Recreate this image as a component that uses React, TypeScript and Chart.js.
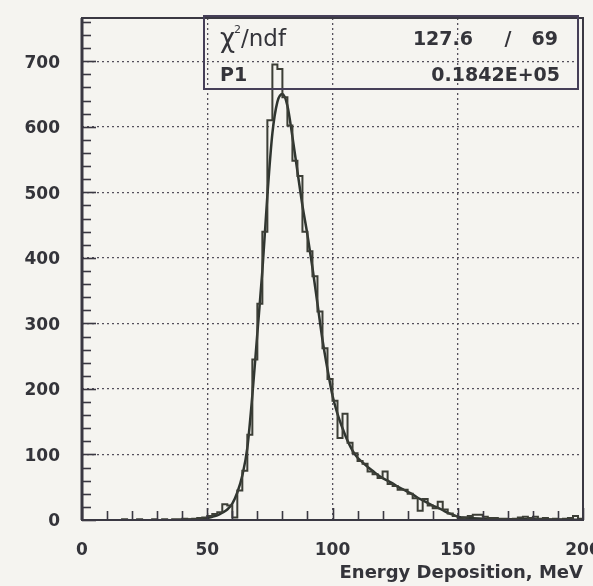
import React, { useEffect, useRef } from "react";
import { Chart, registerables } from "chart.js";

Chart.register(...registerables);

// ---- data ----
const binStart = 0;
const binWidth = 2;
const counts = [
  0, 0, 0, 0, 0, 0, 0, 0, 1, 0,
  0, 1, 0, 0, 1, 0, 1, 0, 1, 1,
  2, 1, 2, 3, 4, 6, 9, 12, 24, 22,
  4, 45, 75, 130, 245, 330, 440, 610, 695, 688,
  645, 602, 548, 525, 440, 410, 372, 318, 262, 215,
  182, 125, 162, 118, 102, 90, 86, 74, 70, 64,
  74, 55, 52, 46, 46, 40, 33, 14, 32, 22,
  18, 28, 16, 10, 6, 2, 4, 6, 8, 8,
  5, 3, 3, 2, 2, 1, 2, 4, 5, 3,
  5, 2, 3, 1, 2, 1, 2, 3, 6, 2,
];
const fitEnergy = [
  40, 45, 50, 52, 54, 56, 58, 60, 62, 64, 66, 68, 70, 72, 74, 76, 78, 80, 82, 84,
  86, 88, 90, 92, 94, 96, 98, 100, 102, 104, 106, 108, 110, 112, 114, 116, 118, 120,
  122, 124, 126, 128, 130, 132, 134, 136, 138, 140, 142, 144, 146, 148, 150, 155, 160,
  170, 180, 190, 200,
];
const fitValues = [
  0, 1, 3, 5, 7, 11, 16, 25, 42, 68, 110, 190, 285, 380, 495, 590, 638, 650, 632, 585,
  532, 480, 435, 385, 330, 275, 230, 190, 162, 140, 121, 106, 95, 88, 81, 75, 69, 64,
  60, 56, 51, 47, 43, 39, 34, 30, 26, 22, 19, 15, 11, 8, 5, 3, 2,
  1, 1, 0.5, 0.5,
];
const xRange = [0, 200];
const yRange = [0, 766];
const xTickStep = 50;
const yTickStep = 100;
const xMinorStep = 10;
const yMinorStep = 20;
const xTitle = "Energy Deposition, MeV";
const statChiLabel = "χ";
const statChiSup = "2";
const statNdfLabel = "/ndf";
const statChi2 = "127.6";
const statSlash = "/";
const statNdf = "69";
const statP1Label = "P1";
const statP1Value = "0.1842E+05";

const INK = "#34343a";
const FONT = "'DejaVu Sans', 'Liberation Sans', Arial, sans-serif";

const decorPlugin = {
  id: "decor",
  beforeDraw(chart: any) {
    const ctx = chart.ctx;
    ctx.save();
    ctx.fillStyle = "#f5f4f0";
    ctx.fillRect(0, 0, chart.width, chart.height);
    ctx.restore();
  },
  afterDatasetsDraw(chart: any) {
    const { ctx, chartArea: a, scales } = chart;
    const xs = scales.x;
    const ys = scales.y;
    ctx.save();
    ctx.strokeStyle = "#3a3842";
    ctx.lineWidth = 1.6;
    for (let v = yRange[0]; v <= yRange[1]; v += yMinorStep) {
      const py = Math.round(ys.getPixelForValue(v)) + 0.5;
      const len = v % yTickStep === 0 ? 14 : 9;
      ctx.beginPath();
      ctx.moveTo(a.left, py);
      ctx.lineTo(a.left + len, py);
      ctx.stroke();
    }
    for (let v = xRange[0]; v <= xRange[1]; v += xMinorStep) {
      const px = Math.round(xs.getPixelForValue(v)) + 0.5;
      const len = v % xTickStep === 0 ? 12 : 9;
      ctx.beginPath();
      ctx.moveTo(px, a.bottom);
      ctx.lineTo(px, a.bottom - len);
      ctx.stroke();
    }
    // frame
    ctx.lineWidth = 2;
    ctx.strokeStyle = "#3a3842";
    ctx.strokeRect(a.left, a.top, a.right - a.left, a.bottom - a.top);
    ctx.lineWidth = 3;
    ctx.beginPath();
    ctx.moveTo(a.left, a.top);
    ctx.lineTo(a.left, a.bottom);
    ctx.stroke();

    // stats box
    const bx = 204;
    const by = a.top - 2;
    const bw = a.right - 5 - bx;
    const bh = 89 - by;
    ctx.lineWidth = 2;
    ctx.strokeStyle = "#463f58";
    ctx.strokeRect(bx, by, bw, bh);

    ctx.fillStyle = INK;
    ctx.textBaseline = "alphabetic";
    ctx.textAlign = "left";
    ctx.font = `26px ${FONT}`;
    ctx.fillText(statChiLabel, 220, 47);
    const chiW = ctx.measureText(statChiLabel).width;
    ctx.font = `11px ${FONT}`;
    ctx.fillText(statChiSup, 220 + chiW - 1, 33);
    ctx.font = `23px ${FONT}`;
    ctx.fillText(statNdfLabel, 220 + chiW + 6, 46);

    ctx.font = `bold 19px ${FONT}`;
    ctx.textAlign = "right";
    ctx.fillText(statChi2, 473, 45);
    ctx.textAlign = "center";
    ctx.fillText(statSlash, 508, 45);
    ctx.textAlign = "right";
    ctx.fillText(statNdf, 558, 45);

    ctx.textAlign = "left";
    ctx.fillText(statP1Label, 220, 81);
    ctx.textAlign = "right";
    ctx.fillText(statP1Value, 560, 81);
    ctx.restore();
  },
};

export default function App() {
  const ref = useRef<HTMLCanvasElement | null>(null);
  useEffect(() => {
    if (!ref.current) return;
    const histPoints = counts.map((c, i) => ({ x: binStart + i * binWidth, y: c }));
    histPoints.push({ x: binStart + counts.length * binWidth, y: counts[counts.length - 1] });
    const fitPoints = fitEnergy.map((e, i) => ({ x: e, y: fitValues[i] }));
    const chart = new Chart(ref.current, {
      type: "line",
      data: {
        datasets: [
          {
            data: histPoints,
            stepped: true,
            borderColor: "#3c3e36",
            borderWidth: 2,
            pointRadius: 0,
            fill: false,
          },
          {
            data: fitPoints,
            borderColor: "#2f3530",
            borderWidth: 2.5,
            pointRadius: 0,
            cubicInterpolationMode: "monotone",
            fill: false,
          },
        ],
      },
      options: {
        animation: false,
        responsive: false,
        devicePixelRatio: 1,
        layout: { padding: { left: 0, right: 10, top: 18, bottom: 0 } },
        plugins: { legend: { display: false }, tooltip: { enabled: false } },
        scales: {
          x: {
            type: "linear",
            min: xRange[0],
            max: xRange[1],
            afterFit: (s: any) => {
              s.height = 66;
              s.paddingLeft = 0;
              s.paddingRight = 0;
            },
            ticks: {
              stepSize: xTickStep,
              includeBounds: false,
              padding: 20,
              color: INK,
              font: { family: FONT, size: 17, weight: "bold" },
              maxRotation: 0,
              autoSkip: false,
            },
            grid: {
              drawTicks: false,
              color: "#55505c",
              lineWidth: 1.3,
            },
            border: { display: false, dash: [2, 3] },
            title: {
              display: true,
              text: xTitle,
              align: "end",
              color: INK,
              font: { family: FONT, size: 18, weight: "bold" },
              padding: { top: 0, bottom: 2 },
            },
          },
          y: {
            type: "linear",
            min: yRange[0],
            max: yRange[1],
            afterFit: (s: any) => {
              s.width = 82;
              s.paddingTop = 0;
              s.paddingBottom = 0;
            },
            ticks: {
              stepSize: yTickStep,
              includeBounds: false,
              padding: 22,
              labelOffset: 2,
              color: INK,
              font: { family: FONT, size: 17, weight: "bold" },
            },
            grid: {
              drawTicks: false,
              color: "#55505c",
              lineWidth: 1.3,
            },
            border: { display: false, dash: [2, 3] },
          },
        },
      },
      plugins: [decorPlugin],
    } as any);
    return () => chart.destroy();
  }, []);
  return (
    <div style={{ position: "fixed", left: 0, top: 0, width: 593, height: 586 }}>
      <canvas ref={ref} width={593} height={586} style={{ width: 593, height: 586, display: "block" }} />
    </div>
  );
}
